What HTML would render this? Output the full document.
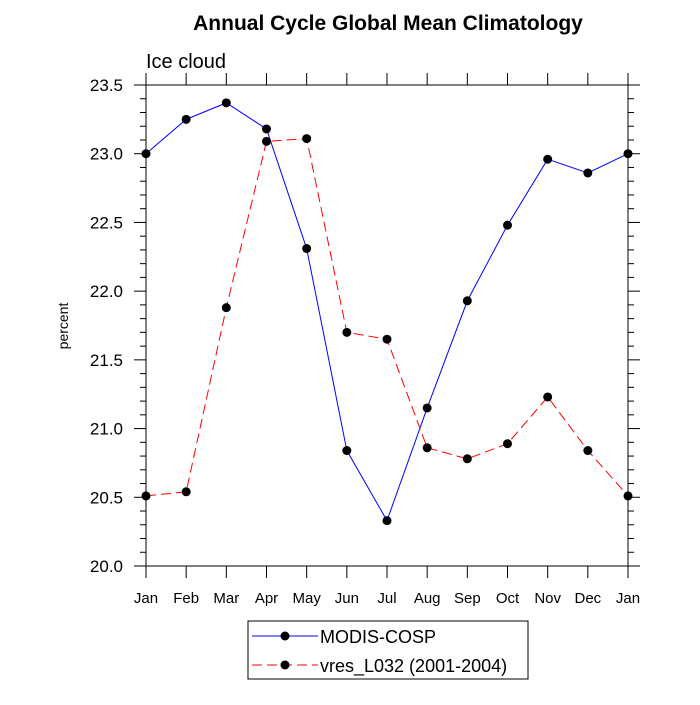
<!DOCTYPE html>
<html><head><meta charset="utf-8"><style>
body{margin:0;background:#fff;}
svg{font-family:"Liberation Sans",sans-serif;}
</style></head><body>
<svg id="chart" width="700" height="700">
<text x="388" y="30" text-anchor="middle" font-size="21" font-weight="bold">Annual Cycle Global Mean Climatology</text>
<text x="146" y="68" font-size="20">Ice cloud</text>
<text transform="translate(68,326) rotate(-90)" text-anchor="middle" font-size="14">percent</text>
<rect x="146" y="85" width="482" height="481" fill="none" stroke="#000" stroke-width="1"/>
<g id="axes"></g>
<g id="series"></g>
<g>
<rect x="248" y="621" width="280" height="58" fill="#fff" stroke="#000"/>
<line x1="252" y1="636" x2="318" y2="636" stroke="#0000ff"/>
<circle cx="285" cy="636" r="4.5" fill="#000"/>
<text x="320" y="643" font-size="18">MODIS-COSP</text>
<line x1="252" y1="665" x2="318" y2="665" stroke="#ff0000" stroke-dasharray="10,5"/>
<circle cx="285" cy="665" r="4.5" fill="#000"/>
<text x="320" y="672" font-size="18">vres_L032 (2001-2004)</text>
</g>
</svg>
<script>
const months = ["Jan","Feb","Mar","Apr","May","Jun","Jul","Aug","Sep","Oct","Nov","Dec","Jan"];
const modis = [23.00,23.25,23.37,23.18,22.31,20.84,20.33,21.15,21.93,22.48,22.96,22.86,23.00];
const vres = [20.51,20.54,21.88,23.09,23.11,21.70,21.65,20.86,20.78,20.89,21.23,20.84,20.51];
const yTicks = [20.0,20.5,21.0,21.5,22.0,22.5,23.0,23.5];
const yTickLabels = ["20.0","20.5","21.0","21.5","22.0","22.5","23.0","23.5"];

const NS="http://www.w3.org/2000/svg";
const X0=146,X1=628,Y0=566,Y1=85,YMIN=20,YMAX=23.5;
const xs=i=>X0+(X1-X0)*i/(months.length-1);
const ys=v=>Y0-(v-YMIN)/(YMAX-YMIN)*(Y0-Y1);
function mk(tag,attrs,parent){const e=document.createElementNS(NS,tag);for(const k in attrs)e.setAttribute(k,attrs[k]);parent.appendChild(e);return e;}
const axes=document.getElementById('axes');
for(let v=YMIN;v<=YMAX+1e-6;v+=0.1){
  const y=ys(v);const major=Math.abs((v*2)-Math.round(v*2))<1e-6;const L=major?12:6;
  const t1=mk('line',{x1:X0,y1:y,x2:X0-L,y2:y,stroke:'#000'},axes);
  
  
  const t2=mk('line',{x1:X1,y1:y,x2:X1+L,y2:y,stroke:'#000'},axes);
  
  
}
yTicks.forEach((v,i)=>{
  const t=mk('text',{x:X0-23,y:ys(v)+6,'text-anchor':'end','font-size':'17'},axes);
  t.textContent=yTickLabels[i];
  
  
});
months.forEach((m,i)=>{
  const x=xs(i);
  const a=mk('line',{x1:x,y1:Y0,x2:x,y2:Y0+12,stroke:'#000'},axes);
  
  
  const b=mk('line',{x1:x,y1:Y1,x2:x,y2:Y1-12,stroke:'#000'},axes);
  
  
  const t=mk('text',{x:x,y:Y0+37,'text-anchor':'middle','font-size':'15'},axes);
  t.textContent=m;
  
  
});
const ser=document.getElementById('series');
function draw(vals,color,dash,name){
  const pts=vals.map((v,i)=>xs(i)+','+ys(v)).join(' ');
  const pl=mk('polyline',{points:pts,fill:'none',stroke:color,'stroke-width':1,'stroke-dasharray':dash},ser);
  
  
  vals.forEach((v,i)=>{
    const c=mk('circle',{cx:xs(i),cy:ys(v),r:4.5,fill:'#000'},ser);
    
    
  });
}
draw(modis,'#0000ff','none','modis');
draw(vres,'#ff0000','10,5','vres');
</script>
</body></html>
